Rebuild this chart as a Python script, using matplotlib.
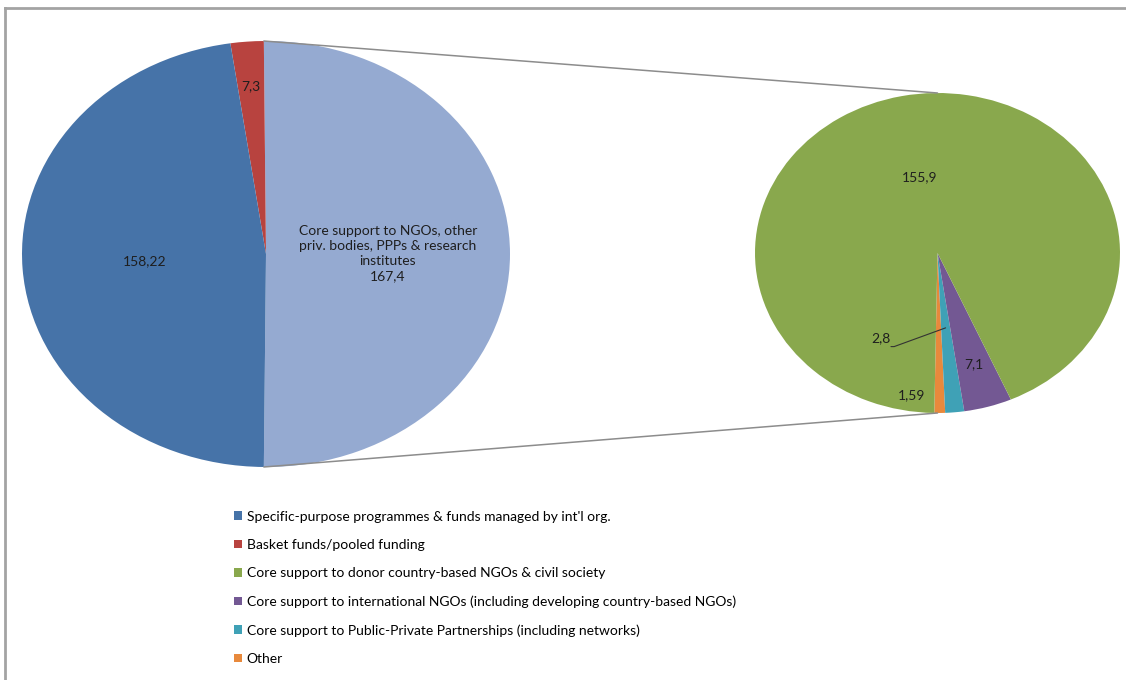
import numpy as np
import matplotlib
matplotlib.use("Agg")
import matplotlib.pyplot as plt
from matplotlib.patches import ConnectionPatch, Patch
from matplotlib.lines import Line2D

# data (main pie and the breakdown of its "core support" slice)
main_labels = ["Core support to NGOs, other\npriv. bodies, PPPs & research\ninstitutes",
               "Basket funds/pooled funding",
               "Specific-purpose programmes & funds managed by int'l org."]
main_values = [167.4, 7.3, 158.22]
main_text = ["167,4", "7,3", "158,22"]

sub_labels = ["Other",
              "Core support to Public-Private Partnerships (including networks)",
              "Core support to international NGOs (including developing country-based NGOs)",
              "Core support to donor country-based NGOs & civil society"]
sub_values = [1.59, 2.8, 7.1, 155.9]
sub_text = ["1,59", "2,8", "7,1", "155,9"]

legend_order = ["Specific-purpose programmes & funds managed by int'l org.",
                "Basket funds/pooled funding",
                "Core support to donor country-based NGOs & civil society",
                "Core support to international NGOs (including developing country-based NGOs)",
                "Core support to Public-Private Partnerships (including networks)",
                "Other"]

colors = {
    main_labels[0]: "#95aad1",
    main_labels[1]: "#b8433f",
    main_labels[2]: "#4673a8",
    sub_labels[0]: "#e8893c",
    sub_labels[1]: "#3fa1b6",
    sub_labels[2]: "#735893",
    sub_labels[3]: "#89a84d",
}

plt.rcParams['font.family'] = ['Lato', 'DejaVu Sans']
W, H = 1126, 680
fig = plt.figure(figsize=(W / 100, H / 100), dpi=100)
fig.patch.set_facecolor("white")

def box(x0, y0, x1, y1):
    # pixel box (top-left origin) -> figure fraction rect
    return [x0 / W, (H - y1) / H, (x1 - x0) / W, (y1 - y0) / H]

lab_col = "#1e1e1e"
lab_size = 10

# main pie
ax1 = fig.add_axes(box(22, 41, 510, 467))
start1 = -180 * main_values[0] / sum(main_values)
w1, _ = ax1.pie(main_values, colors=[colors[l] for l in main_labels],
                startangle=start1, counterclock=True,
                wedgeprops=dict(linewidth=0))
ax1.set_xlim(-1, 1); ax1.set_ylim(-1, 1); ax1.set_aspect("auto")
ax1.axis("off")

label_r1 = [0.5, 0.79, 0.5]
for w, txt, r, name in zip(w1, main_text, label_r1, main_labels):
    a = np.deg2rad((w.theta1 + w.theta2) / 2)
    s = txt if name != main_labels[0] else name + "\n" + txt
    ax1.text(r * np.cos(a), r * np.sin(a), s, ha="center", va="center",
             fontsize=lab_size, color=lab_col, linespacing=1.3)

# secondary pie
ax2 = fig.add_axes(box(755, 93, 1120, 413))
w2, _ = ax2.pie(sub_values, colors=[colors[l] for l in sub_labels],
                startangle=-91, counterclock=True,
                wedgeprops=dict(linewidth=0))
ax2.set_xlim(-1, 1); ax2.set_ylim(-1, 1); ax2.set_aspect("auto")
ax2.axis("off")

def mid(w):
    return np.deg2rad((w.theta1 + w.theta2) / 2)

# 155,9 and 7,1 inside their slices
for i, r in [(3, 0.485), (2, 0.72)]:
    a = mid(w2[i])
    ax2.text(r * np.cos(a), r * np.sin(a), sub_text[i], ha="center", va="center",
             fontsize=lab_size, color=lab_col)
# 1,59 placed beside the thin slice
ax2.text(-0.14, -0.89, sub_text[0], ha="center", va="center", fontsize=lab_size, color=lab_col)
# 2,8 with leader line from its lower right corner
a = mid(w2[1])
ax2.text(-0.31, -0.53, sub_text[1], ha="center", va="center", fontsize=lab_size, color=lab_col)
ax2.annotate("", xy=(0.47 * np.cos(a), 0.47 * np.sin(a)), xytext=(-0.255, -0.585),
             arrowprops=dict(arrowstyle="-", color="#333333", lw=0.8,
                             shrinkA=0, shrinkB=0,
                             connectionstyle="angle,angleA=0,angleB=200,rad=0"))

# connector lines between the pies
for th, yb in [(w1[0].theta2, 1), (w1[0].theta1, -1)]:
    t = np.deg2rad(th)
    con = ConnectionPatch(xyA=(np.cos(t), np.sin(t)), coordsA=ax1.transData,
                          xyB=(0, yb), coordsB=ax2.transData,
                          color="#8c8c8c", lw=1.1)
    fig.add_artist(con)

# legend
handles = [Patch(facecolor=colors[l], edgecolor="none") for l in legend_order]
fig.legend(handles, legend_order, loc="upper left",
           bbox_to_anchor=(228 / W, 1 - 505 / H), frameon=False,
           prop=dict(size=10),
           handlelength=0.6, handleheight=0.6, handletextpad=0.35,
           labelspacing=1.17, borderaxespad=0)

# chart frame (top and left edges visible)
fig.add_artist(Line2D([5 / W, 1], [1 - 8 / H, 1 - 8 / H], transform=fig.transFigure,
                      color="#a3a3a3", lw=2))
fig.add_artist(Line2D([5 / W, 5 / W], [0, 1 - 8 / H], transform=fig.transFigure,
                      color="#a3a3a3", lw=2))

fig.savefig("out.png", dpi=100)
